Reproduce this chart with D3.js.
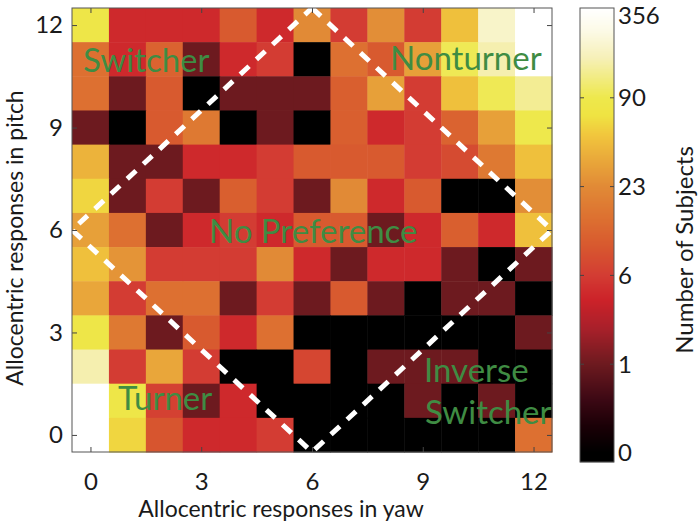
<!DOCTYPE html>
<html lang="en">
<head>
<meta charset="UTF-8" />
<title>Allocentric responses</title>
<script src="https://d3js.org/d3.v7.min.js"></script>
<style>
  body { margin: 0; background: #fff; }
  svg { display: block; font-family: Lato, "Open Sans", sans-serif; }
  .tick text { fill: #1a1a1a; font-size: 24px; font-family: Lato, "Open Sans", sans-serif; }
</style>
</head>
<body>
<svg id="chart" width="700" height="521"></svg>
<script>
// values
const yaw = d3.range(13);                 // columns 0..12
const pitch = d3.range(12, -1, -1);       // rows, top (12) to bottom (0)
const yawTicks = [0, 3, 6, 9, 12];
const pitchTicks = [0, 3, 6, 9, 12];
const cbTicks = [0, 1, 6, 23, 90, 356];

// number of subjects, one array per pitch row (12 at top), yaw 0..12
const counts = [
  [ 85,  5,  5,  5, 12,  5, 23,  6, 26,  6,  58, 240, 356],
  [ 17,  5, 14,  1,  5,  6,  0, 17, 12, 38, 100, 200, 356],
  [ 17,  1, 12,  0,  1,  1,  1, 13, 38,  6,  58, 100, 170],
  [  1,  0, 12, 19,  0,  1,  0, 13,  5,  6,  14,  38,  90],
  [ 50,  1,  1,  5,  5,  6, 12, 12, 12,  6,   9,  19,  58],
  [ 70,  1,  6,  1, 13,  6,  1, 23,  5, 12,   0,   0,  26],
  [ 38, 17,  1,  5,  6,  5, 12, 12,  1,  5,  13,   5,  58],
  [ 58, 30,  6,  6,  6, 23,  5,  1,  5,  5,   1,   0,   1],
  [ 42,  6, 17, 17,  1,  6,  1, 12,  1,  0,   1,   1,   0],
  [ 85, 19,  1, 12,  5, 17,  0,  0,  0,  0,   0,   0,   1],
  [200,  6, 42,  6,  0,  0,  8,  0,  1,  1,   1,   0,   0],
  [356, 85,  7,  1,  5,  0,  0,  0,  0,  1,   0,   1,   0],
  [356, 70, 11,  5,  5,  6,  0,  0,  0,  0,   0,   0,  17]
];

const regions = [
  { text: "Switcher", x: 83, y: 72 },
  { text: "Nonturner", x: 390, y: 70 },
  { text: "No Preference", x: 209, y: 243 },
  { text: "Turner", x: 118, y: 410 },
  { text: "Inverse", x: 424, y: 382 },
  { text: "Switcher", x: 425, y: 424 }
];

const svg = d3.select("#chart");

const plotL = 72, plotR = 552, plotT = 8, plotB = 452;
const x = d3.scaleLinear().domain([-0.5, 12.5]).range([plotL, plotR]);
const y = d3.scaleLinear().domain([-0.5, 12.5]).range([plotB, plotT]);

// colour: ticks of the colorbar are equally spaced
const tOf = d3.scaleLinear().domain(cbTicks).range(d3.range(cbTicks.length)).clamp(true);
const hot = d3.scaleLinear()
  .domain([0, 0.3, 0.6, 1.0, 1.4, 1.72, 2.0, 2.3, 2.6, 3.0, 3.3, 3.58, 3.8, 4.0, 4.25, 4.45, 4.75, 5.0])
  .range(["#000000", "#1a0006", "#3c0814", "#6d1a1f", "#a8202a", "#cc2229", "#d33c33", "#d7562f",
          "#dc6d30", "#e18a36", "#e9a83a", "#f1c63d", "#efe342", "#eee84c", "#f2ec88", "#f6f0b8",
          "#fcfae6", "#ffffff"])
  .clamp(true);
const color = v => hot(tOf(v));

const cells = [];
pitch.forEach((p, i) => yaw.forEach((w, j) => cells.push({ w, p, v: counts[i][j] })));

svg.append("g").selectAll("rect")
  .data(cells)
  .join("rect")
  .attr("x", d => x(d.w - 0.5))
  .attr("y", d => y(d.p + 0.5))
  .attr("width", d => x(d.w + 0.5) - x(d.w - 0.5) + 0.5)
  .attr("height", d => y(d.p - 0.5) - y(d.p + 0.5) + 0.5)
  .attr("fill", d => color(d.v));

// dashed diamond |yaw-6| + |pitch-6| = 6.5
const diamond = [[6, 12.5], [12.5, 6], [6, -0.5], [-0.5, 6]];
svg.append("path")
  .attr("d", d3.line().x(d => x(d[0])).y(d => y(d[1]))(diamond) + "Z")
  .attr("fill", "none")
  .attr("stroke", "#fff")
  .attr("stroke-width", 5)
  .attr("stroke-dasharray", "12 10");

svg.append("g").selectAll("text")
  .data(regions)
  .join("text")
  .attr("x", d => d.x)
  .attr("y", d => d.y)
  .attr("fill", "#3f8c43")
  .style("font-size", "33px")
  .text(d => d.text);

// axes, MATLAB style ticks pointing inwards
function styleAxis(g) {
  g.select(".domain").remove();
  g.selectAll(".tick line").attr("stroke", "#444");
  g.attr("font-family", null).attr("font-size", null);
}
svg.append("g").attr("transform", `translate(0,${plotB})`)
  .call(d3.axisBottom(x).tickValues(yawTicks).tickSize(-5).tickPadding(21)).call(styleAxis);
svg.append("g").attr("transform", `translate(0,${plotT})`)
  .call(d3.axisTop(x).tickValues(yawTicks).tickSize(-5).tickFormat("")).call(styleAxis);
svg.append("g").attr("transform", `translate(${plotL},0)`)
  .call(d3.axisLeft(y).tickValues(pitchTicks).tickSize(-5).tickPadding(9)).call(styleAxis);
svg.append("g").attr("transform", `translate(${plotR},0)`)
  .call(d3.axisRight(y).tickValues(pitchTicks).tickSize(-5).tickFormat("")).call(styleAxis);

svg.append("rect")
  .attr("x", plotL).attr("y", plotT)
  .attr("width", plotR - plotL).attr("height", plotB - plotT)
  .attr("fill", "none").attr("stroke", "#555").attr("stroke-width", 1);

svg.append("text")
  .attr("x", (plotL + plotR) / 2 - 31)
  .attr("y", 517)
  .attr("text-anchor", "middle")
  .attr("fill", "#1a1a1a")
  .style("font-size", "23px")
  .text("Allocentric responses in yaw");
svg.append("text")
  .attr("transform", "translate(23,238) rotate(-90)")
  .attr("text-anchor", "middle")
  .attr("fill", "#1a1a1a")
  .style("font-size", "23px")
  .text("Allocentric responses in pitch");

// colorbar
const cbL = 580, cbR = 614, cbT = 8, cbB = 462;
const cbY = d3.scaleLinear().domain([0, cbTicks.length - 1]).range([453, 9]);
const cb = svg.append("g");
cb.selectAll("rect")
  .data(d3.range(cbT, cbB))
  .join("rect")
  .attr("x", cbL)
  .attr("y", d => d)
  .attr("width", cbR - cbL)
  .attr("height", 1.2)
  .attr("fill", d => hot(cbY.invert(d + 0.5)));
cb.append("rect")
  .attr("x", cbL).attr("y", cbT)
  .attr("width", cbR - cbL).attr("height", cbB - cbT)
  .attr("fill", "none").attr("stroke", "#555");
const inner = cbTicks.slice(1, -1);
cb.selectAll("line.l").data(inner).join("line")
  .attr("class", "l")
  .attr("x1", cbL).attr("x2", cbL + 4)
  .attr("y1", d => cbY(tOf(d))).attr("y2", d => cbY(tOf(d)))
  .attr("stroke", "#444");
cb.selectAll("line.r").data(inner).join("line")
  .attr("class", "r")
  .attr("x1", cbR - 4).attr("x2", cbR)
  .attr("y1", d => cbY(tOf(d))).attr("y2", d => cbY(tOf(d)))
  .attr("stroke", "#444");
cb.selectAll("text.lab").data(cbTicks).join("text")
  .attr("class", "lab")
  .attr("x", 618)
  .attr("y", d => Math.max(cbY(tOf(d)), 16))
  .attr("dy", "0.35em")
  .attr("fill", "#1a1a1a")
  .style("font-size", "24px")
  .text(d => d);
svg.append("text")
  .attr("transform", "translate(693,250) rotate(-90)")
  .attr("text-anchor", "middle")
  .attr("fill", "#1a1a1a")
  .style("font-size", "24px")
  .text("Number of Subjects");
</script>
</body>
</html>
